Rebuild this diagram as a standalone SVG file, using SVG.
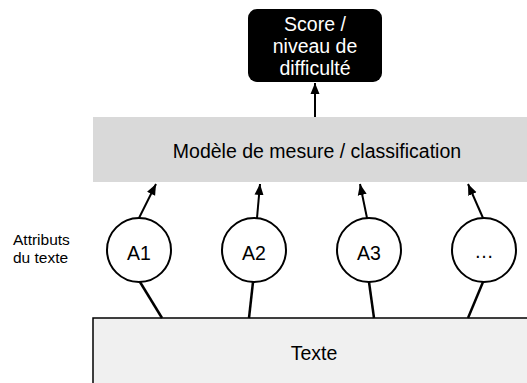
<svg xmlns="http://www.w3.org/2000/svg" width="527" height="383" viewBox="0 0 527 383">
  <style>
    text { font-family: "Liberation Sans", Arial, sans-serif; fill: #000; }
    .main { font-size: 19.5px; text-anchor: middle; }
    .white { fill: #fff; }
    .side { font-size: 15.5px; }
    .attr { fill: #fff; stroke: #000; stroke-width: 2; }
    .up { stroke: #000; stroke-width: 2; fill: none; marker-end: url(#head); }
    .down { stroke: #000; stroke-width: 2.5; fill: none; }
  </style>
  <defs>
    <marker id="head" markerUnits="userSpaceOnUse" markerWidth="12" markerHeight="10" viewBox="0 0 12 10" refX="11" refY="5" orient="auto">
      <path d="M0,0.5 L11,5 L0,9.5 Z" fill="#000"/>
    </marker>
  </defs>

  <rect width="527" height="383" fill="#fff"/>

  <!-- output: score / difficulty level -->
  <g id="score">
    <rect x="248" y="9" width="134" height="73" rx="9" fill="#000"/>
    <text class="main white" x="315" y="31">Score /</text>
    <text class="main white" x="315" y="53">niveau de</text>
    <text class="main white" x="315" y="75">difficulté</text>
  </g>

  <!-- model layer -->
  <g id="modele">
    <rect x="93" y="117" width="440" height="65" fill="#d9d9d9"/>
    <text class="main" x="317" y="158">Modèle de mesure / classification</text>
  </g>

  <!-- text attributes -->
  <g id="label-attributs">
    <text class="side" x="13" y="245">Attributs</text>
    <text class="side" x="13" y="263">du texte</text>
  </g>
  <g id="a1">
    <circle class="attr" cx="139" cy="250" r="32"/>
    <text class="main" x="139" y="260">A1</text>
  </g>
  <g id="a2">
    <circle class="attr" cx="254" cy="250" r="32"/>
    <text class="main" x="254" y="260">A2</text>
  </g>
  <g id="a3">
    <circle class="attr" cx="369" cy="250" r="32"/>
    <text class="main" x="369" y="260">A3</text>
  </g>
  <g id="a-more">
    <circle class="attr" cx="484" cy="250" r="32"/>
    <text class="main" x="484" y="258">…</text>
  </g>

  <!-- source text -->
  <g id="texte">
    <rect x="93" y="318" width="440" height="70" fill="#f0f0f0" stroke="#000" stroke-width="1.5"/>
    <text class="main" x="314" y="360">Texte</text>
  </g>

  <!-- connectors -->
  <g id="connectors">
    <line class="up" x1="315" y1="117" x2="315" y2="83"/>
    <line class="up" x1="139" y1="218" x2="156" y2="184"/>
    <line class="up" x1="257" y1="218" x2="260" y2="184"/>
    <line class="up" x1="367" y1="218" x2="360" y2="184"/>
    <line class="up" x1="483" y1="218" x2="468" y2="184"/>
    <line class="down" x1="140" y1="282" x2="162" y2="318"/>
    <line class="down" x1="253" y1="282" x2="249" y2="318"/>
    <line class="down" x1="369" y1="282" x2="374" y2="318"/>
    <line class="down" x1="483" y1="282" x2="468" y2="318"/>
  </g>
</svg>
